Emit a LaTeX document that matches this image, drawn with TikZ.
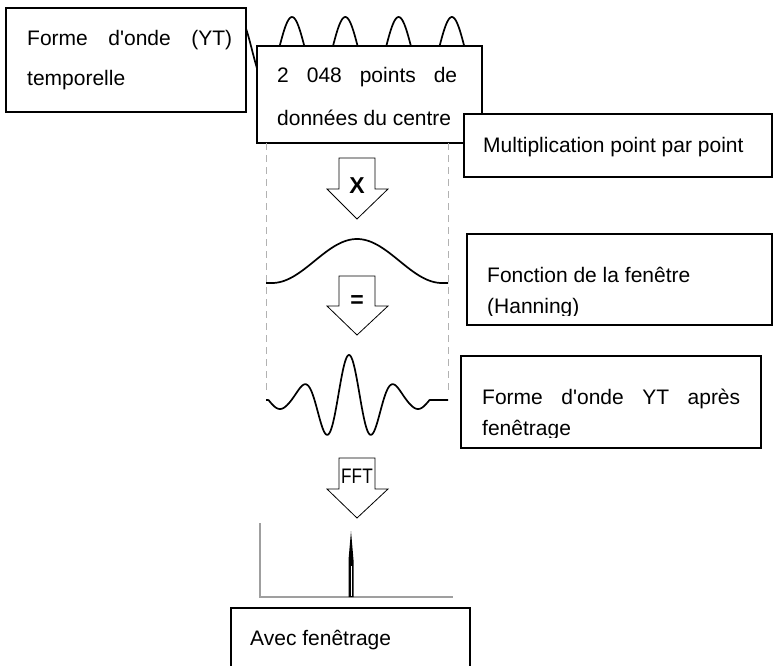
\documentclass[tikz,border=0pt]{standalone}
\usepackage{fontspec}
\newfontfamily\lib{Liberation Sans}
\begin{document}
\begin{tikzpicture}[x=1pt,y=-1pt,
  box/.style={draw=black,line width=1.6pt,fill=white,inner sep=0pt,anchor=north west},
  txt/.style={inner sep=0pt,anchor=base west,font=\lib\fontsize{21}{25}\selectfont},
  arrowshape/.style={draw=black,line width=0.8pt,fill=white,line join=miter},
  oplabel/.style={inner sep=0pt,font=\lib\bfseries\fontsize{23}{23}\selectfont},
  fftlabel/.style={inner sep=0pt,font=\lib\fontsize{21}{21}\selectfont},
  axisline/.style={draw=gray!75,line width=1.2pt},
  guide/.style={draw=gray!60,line width=1pt,dash pattern=on 7pt off 5pt},
  wave/.style={draw=black,line width=1.7pt,line join=round}]
\useasboundingbox (0,0) rectangle (773,666);

% time-domain waveform (behind the boxes)
\draw[wave] plot[domain=239:475,samples=220] (\x,{50-33*cos((\x-292)/53.3*360)});

% box 1
\node[box,minimum width=240pt,minimum height=104pt] (b1) at (5,7) {};
\node[txt] (t1a) at (27,46) {\makebox[205pt][s]{Forme d'onde (YT)}};
\node[txt] (t1b) at (27,86) {temporelle};

% box 2
\node[box,minimum width=225pt,minimum height=97pt] (b2) at (256,45) {};
\node[txt] (t2a) at (277,83) {\makebox[180pt][s]{2 048 points de}};
\node[txt] (t2b) at (277,125) {données du centre};

% box 3
\node[box,minimum width=308pt,minimum height=63pt] (b3) at (463,113) {};
\node[txt] (t3) at (483,152) {Multiplication point par point};

% dashed guides
\draw[guide] (266,143) -- (266,393);
\draw[guide] (448,143) -- (448,393);

% multiply arrow
\draw[arrowshape] (339,158) -- (375,158) -- (375,189) -- (388,189) -- (357,219) -- (327,189) -- (339,189) -- cycle;
\node[oplabel] (xl) at (357,186) {X};

% Hanning window
\draw[wave] (266,283) -- (272,283)
  plot[domain=272:442,samples=120] (\x,{283-44*(0.5-0.5*cos((\x-272)/170*360))}) -- (448,283);

% equals arrow
\draw[arrowshape] (339,276) -- (375,276) -- (375,306) -- (388,306) -- (357,335) -- (327,306) -- (339,306) -- cycle;
\node[oplabel] (eql) at (357,302) {=};

% box 4
\node[box,minimum width=305pt,minimum height=91pt] (b4) at (466,233) {};
\node[txt] (t4a) at (487,282) {Fonction de la fenêtre};
\begin{scope}
  \clip (466,233) rectangle (771,315);
  \node[txt] (t4b) at (487,313) {(Hanning)};
\end{scope}

% windowed waveform
\draw[wave] (266,400) -- (268.5,400)
  plot[domain=268.5:429.5,samples=320]
  (\x,{400-45*(0.2+0.8*(0.5+0.5*cos(min(abs(\x-349),62.8)/62.8*180)))*cos((\x-349)/46*360)})
  -- (448,400);

% box 5
\node[box,minimum width=300pt,minimum height=92pt] (b5) at (460,355) {};
\node[txt] (t5a) at (482,404) {\makebox[258pt][s]{Forme d'onde YT après}};
\begin{scope}
  \clip (460,355) rectangle (760,437);
  \node[txt] (t5b) at (482,435) {fenêtrage};
\end{scope}

% FFT arrow
\draw[arrowshape] (339,458) -- (375,458) -- (375,489) -- (388,489) -- (357,518) -- (327,489) -- (339,489) -- cycle;
\node[fftlabel] (fftl) at (357,476) {\scalebox{0.82}[1]{FFT}};

% spectrum
\draw[axisline] (260,523) -- (260,597) -- (453,597);
\fill[black] (348.5,597) -- (348.5,560) -- (351,531) -- (353.5,560) -- (353.5,597) -- cycle;
\draw[white,line width=0.6pt] (351,566) -- (351,596);

% box 6
\node[box,minimum width=239pt,minimum height=65pt] (b6) at (230,607) {};
\node[txt] (t6) at (250,645) {Avec fenêtrage};
\end{tikzpicture}
\end{document}
